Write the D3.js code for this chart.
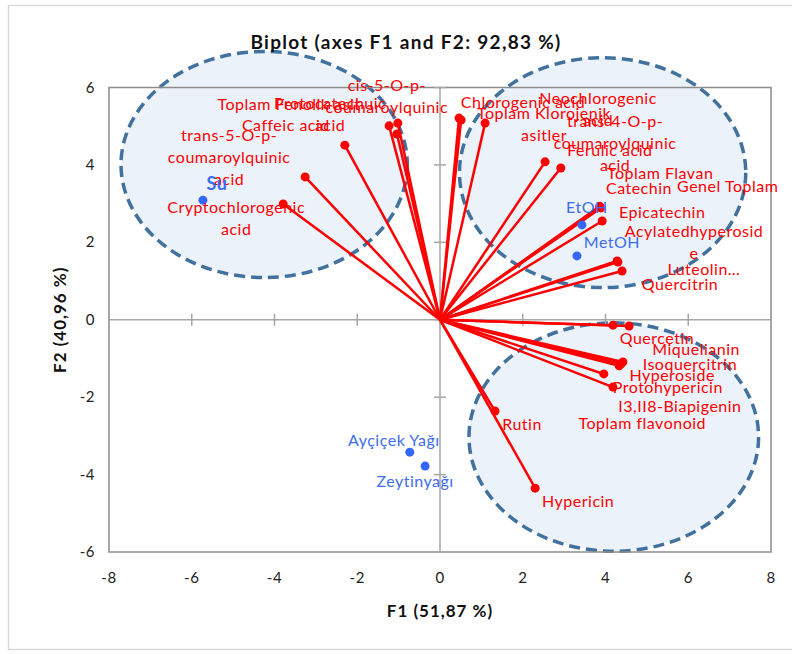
<!DOCTYPE html>
<html>
<head>
<meta charset="utf-8">
<script src="https://cdn.jsdelivr.net/npm/d3@7"></script>
<style>
  body { margin: 0; background: #fff; }
  svg { font-family: Lato, "Noto Sans", sans-serif; }
</style>
</head>
<body>
<svg id="chart" width="792" height="654"></svg>
<script>
// variables (red vectors)
const varNames = [
  "Cryptochlorogenic acid", "trans-5-O-p-coumaroylquinic acid", "Caffeic acid",
  "Toplam Fenolik asit", "Protocatechuic acid", "cis-5-O-p-coumaroylquinic",
  "Chlorogenic acid", "Neochlorogenic acid", "Toplam Klorojenik asitler",
  "trans-4-O-p-coumaroylquinic acid", "Ferulic acid", "Toplam Flavan", "Catechin",
  "Genel Toplam", "Epicatechin", "Acylatedhyperoside", "Luteolin…", "Quercitrin",
  "Quercetin", "Miquelianin", "Isoquercitrin", "Toplam flavonoid", "Hyperoside",
  "Protohypericin", "I3,II8-Biapigenin", "Rutin", "Hypericin"
];
const varF1 = [-3.79, -3.26, -2.30, -1.04, -1.23, -1.02, 0.46, 0.51, 1.09, 2.54, 2.92, 3.87, 3.89,
  3.86, 3.92, 4.28, 4.30, 4.40, 4.18, 4.57, 4.42, 4.38, 4.33, 3.96, 4.18, 1.33, 2.30];
const varF2 = [2.99, 3.69, 4.51, 4.80, 5.01, 5.08, 5.21, 5.16, 5.08, 4.08, 3.92, 2.91, 2.89,
  2.93, 2.55, 1.52, 1.49, 1.26, -0.14, -0.16, -1.09, -1.14, -1.19, -1.40, -1.74, -2.36, -4.35];

// observations (blue points)
const obsNames = ["Su", "EtOH", "MetOH", "Ayçiçek Yağı", "Zeytinyağı"];
const obsF1 = [-5.73, 3.43, 3.31, -0.73, -0.36];
const obsF2 = [3.09, 2.45, 1.65, -3.42, -3.78];

const xTicks = [-8, -6, -4, -2, 0, 2, 4, 6, 8];
const yTicks = [-6, -4, -2, 0, 2, 4, 6];

// group ellipses: centre, radii (in axis units)
const ellCx = [-4.25, 3.93, 4.20];
const ellCy = [4.01, 3.80, -3.03];
const ellRx = [3.46, 3.46, 3.50];
const ellRy = [2.92, 2.97, 2.95];

// label layout: [dx, dy] px from point to first line, lines
const labelLayout = {
  "Cryptochlorogenic acid": [-47, 3, ["Cryptochlorogenic", "acid"]],
  "trans-5-O-p-coumaroylquinic acid": [-76, -42, ["trans-5-O-p-", "coumaroylquinic", "acid"]],
  "Caffeic acid": [-59, -20, ["Caffeic acid"]],
  "Toplam Fenolik asit": [-108, -30, ["Toplam Fenolik asit"]],
  "Protocatechuic acid": [-59, -22, ["Protocatechuic", "acid"]],
  "cis-5-O-p-coumaroylquinic": [-11, -38, ["cis-5-O-p-", "coumaroylquinic"]],
  "Chlorogenic acid": [64, -16, ["Chlorogenic acid"]],
  "Neochlorogenic acid": [137, -22, ["Neochlorogenic", "acid"]],
  "Toplam Klorojenik asitler": [59, -10, ["Toplam Klorojenik", "asitler"]],
  "trans-4-O-p-coumaroylquinic acid": [70, -40, ["trans-4-O-p-", "coumaroylquinic", "acid"]],
  "Ferulic acid": [49, -18, ["Ferulic acid"]],
  "Toplam Flavan": [60, -34, ["Toplam Flavan"]],
  "Catechin": [38, -19, ["Catechin"]],
  "Genel Toplam": [128, -20, ["Genel Toplam"]],
  "Epicatechin": [60, -9, ["Epicatechin"]],
  "Acylatedhyperoside": [77, -30, ["Acylatedhyperosid", "e"]],
  "Luteolin…": [86, 7, ["Luteolin…"]],
  "Quercitrin": [58, 13, ["Quercitrin"]],
  "Quercetin": [44, 13, ["Quercetin"]],
  "Miquelianin": [67, 23, ["Miquelianin"]],
  "Isoquercitrin": [67, 2, ["Isoquercitrin"]],
  "Toplam flavonoid": [21, 60, ["Toplam flavonoid"]],
  "Hyperoside": [53, 10, ["Hyperoside"]],
  "Protohypericin": [64, 13, ["Protohypericin"]],
  "I3,II8-Biapigenin": [67, 19, ["I3,II8-Biapigenin"]],
  "Rutin": [27, 13, ["Rutin"]],
  "Hypericin": [43, 13, ["Hypericin"]],
  "Su": [14, -16, ["Su"]],
  "EtOH": [5, -18, ["EtOH"]],
  "MetOH": [35, -13, ["MetOH"]],
  "Ayçiçek Yağı": [-16, -12, ["Ayçiçek Yağı"]],
  "Zeytinyağı": [-10, 15, ["Zeytinyağı"]]
};

const plot = {left: 109, right: 771, top: 87.5, bottom: 552};
const lineH = 22;

function drawChart() {
  const svg = d3.select("#chart");

  // outer chart border
  svg.append("rect")
    .attr("x", 8.5).attr("y", 5.5).attr("width", 800).attr("height", 644)
    .attr("fill", "none").attr("stroke", "#d9d9d9").attr("stroke-width", 1.5);

  const x = d3.scaleLinear().domain([-8, 8]).range([plot.left, plot.right]);
  const y = d3.scaleLinear().domain([-6, 6]).range([plot.bottom, plot.top]);

  const g = svg.append("g");

  // ellipses
  g.selectAll(".ell")
    .data(ellCx.map((c, i) => ({cx: c, cy: ellCy[i], rx: ellRx[i], ry: ellRy[i]})))
    .enter().append("ellipse")
    .attr("cx", d => x(d.cx))
    .attr("cy", d => y(d.cy))
    .attr("rx", d => x(d.rx) - x(0))
    .attr("ry", d => y(0) - y(d.ry))
    .attr("fill", "#dde9f6").attr("fill-opacity", 0.6)
    .attr("stroke", "#41719c").attr("stroke-width", 3.5)
    .attr("stroke-dasharray", "11,6");

  // plot frame
  g.append("rect")
    .attr("x", plot.left).attr("y", plot.top)
    .attr("width", plot.right - plot.left).attr("height", plot.bottom - plot.top)
    .attr("fill", "none").attr("stroke", "#8c8c8c").attr("stroke-width", 1.5);

  // zero axes with ticks
  g.append("line")
    .attr("x1", x(0)).attr("x2", x(0)).attr("y1", plot.top).attr("y2", plot.bottom)
    .attr("stroke", "#a6a6a6").attr("stroke-width", 1.5);
  g.append("line")
    .attr("x1", plot.left).attr("x2", plot.right).attr("y1", y(0)).attr("y2", y(0))
    .attr("stroke", "#a6a6a6").attr("stroke-width", 1.5);

  g.selectAll(".ytick").data(yTicks).enter().append("line")
    .attr("x1", x(0) - 6).attr("x2", x(0) + 6)
    .attr("y1", d => y(d)).attr("y2", d => y(d))
    .attr("stroke", "#a6a6a6").attr("stroke-width", 1.5);
  g.selectAll(".xtick").data(xTicks).enter().append("line")
    .attr("x1", d => x(d)).attr("x2", d => x(d))
    .attr("y1", y(0) - 6).attr("y2", y(0) + 6)
    .attr("stroke", "#a6a6a6").attr("stroke-width", 1.5);

  // tick labels
  svg.selectAll(".xlab").data(xTicks).enter().append("text")
    .attr("x", d => x(d)).attr("y", plot.bottom + 31)
    .attr("text-anchor", "middle").attr("font-size", 15).attr("fill", "#222")
    .attr("letter-spacing", 0.5)
    .text(d => d);
  svg.selectAll(".ylab").data(yTicks).enter().append("text")
    .attr("x", plot.left - 14).attr("y", d => y(d) + 5)
    .attr("text-anchor", "end").attr("font-size", 15).attr("fill", "#222")
    .attr("letter-spacing", 0.5)
    .text(d => d);

  // vectors
  const vars = varNames.map((n, i) => ({name: n, f1: varF1[i], f2: varF2[i]}));
  g.selectAll(".vec").data(vars).enter().append("line")
    .attr("x1", x(0)).attr("y1", y(0))
    .attr("x2", d => x(d.f1)).attr("y2", d => y(d.f2))
    .attr("stroke", "#ff0000").attr("stroke-width", 2.5);
  g.selectAll(".vpt").data(vars).enter().append("circle")
    .attr("cx", d => x(d.f1)).attr("cy", d => y(d.f2)).attr("r", 4.5)
    .attr("fill", "#ff0000");

  const obs = obsNames.map((n, i) => ({name: n, f1: obsF1[i], f2: obsF2[i]}));
  g.selectAll(".opt").data(obs).enter().append("circle")
    .attr("cx", d => x(d.f1)).attr("cy", d => y(d.f2)).attr("r", 4.5)
    .attr("fill", "#3366ff");

  // labels
  function addLabels(data, color, cls) {
    const t = g.selectAll("." + cls).data(data).enter().append("text")
      .attr("class", cls)
      .attr("text-anchor", "middle")
      .attr("fill", color)
      .attr("letter-spacing", 0.5)
      .attr("font-size", d => d.name == "Su" ? 18 : 16)
      .attr("font-weight", d => d.name == "Su" ? "bold" : "normal");
    t.each(function(d) {
      const lay = labelLayout[d.name];
      const px = x(d.f1) + lay[0], py = y(d.f2) + lay[1];
      lay[2].forEach((s, k) => {
        d3.select(this).append("tspan")
          .attr("x", px).attr("y", py + k * lineH)
          .attr("dy", "0.35em")
          .text(s);
      });
    });
  }
  addLabels(vars, "#ff0000", "vlab");
  addLabels(obs, "#3d6cf0", "olab");

  // titles
  svg.append("text")
    .attr("x", 406).attr("y", 49).attr("text-anchor", "middle")
    .attr("font-size", 19).attr("font-weight", "bold").attr("fill", "#111")
    .attr("letter-spacing", 1.3)
    .text("Biplot (axes F1 and F2: 92,83 %)");
  svg.append("text")
    .attr("x", x(0)).attr("y", 617).attr("text-anchor", "middle")
    .attr("font-size", 17).attr("font-weight", "bold").attr("fill", "#111")
    .attr("letter-spacing", 1)
    .text("F1 (51,87 %)");
  svg.append("text")
    .attr("transform", `translate(66,${y(0)}) rotate(-90)`)
    .attr("text-anchor", "middle")
    .attr("font-size", 17).attr("font-weight", "bold").attr("fill", "#111")
    .attr("letter-spacing", 1)
    .text("F2 (40,96 %)");
}

window.onload = drawChart;
</script>
</body>
</html>
